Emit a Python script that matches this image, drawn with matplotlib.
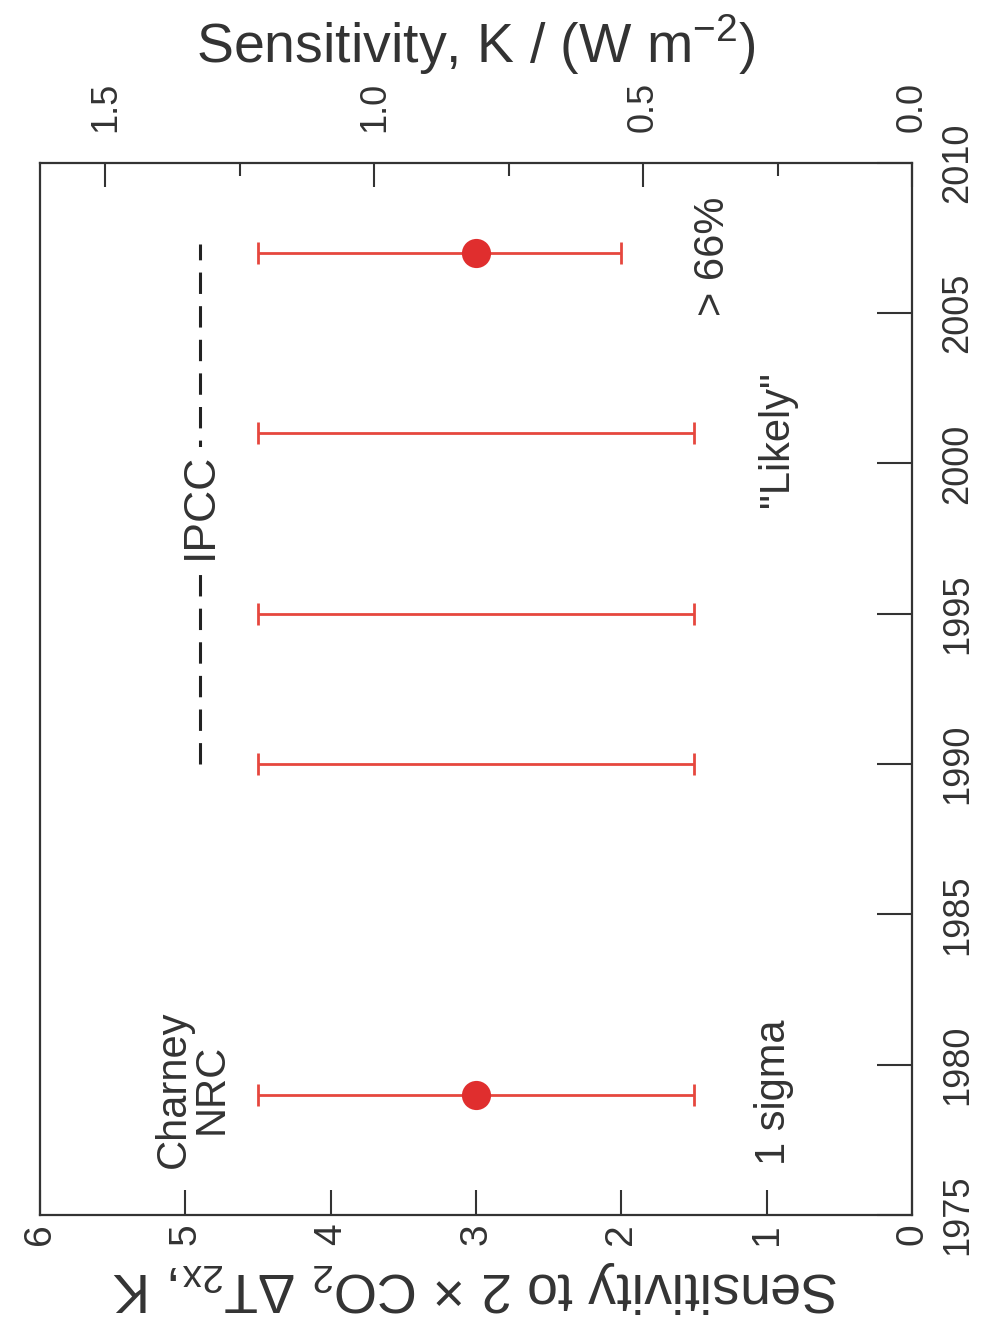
import numpy as np
import matplotlib
matplotlib.use("Agg")
import matplotlib.pyplot as plt

plt.rcParams['font.family'] = ['Liberation Sans', 'DejaVu Sans']
plt.rcParams['mathtext.fontset'] = 'custom'
plt.rcParams['mathtext.rm'] = 'Liberation Sans'

# climate sensitivity assessments (K for doubled CO2)
years = [1979, 1990, 1995, 2001, 2007]
low = [1.5, 1.5, 1.5, 1.5, 2.0]
high = [4.5, 4.5, 4.5, 4.5, 4.5]
best_years = [1979, 2007]
best_vals = [3.0, 3.0]
ipcc_span = [1990, 2007.3]
ipcc_level = 4.9

k_ticks = [0, 1, 2, 3, 4, 5, 6]
year_ticks = [1975, 1980, 1985, 1990, 1995, 2000, 2005, 2010]
flux_ticks = [0.0, 0.5, 1.0, 1.5]
flux_minor = [0.25, 0.75, 1.25]
K_PER_FLUX = 3.7  # K per (W m-2)

red = '#e6473e'
ink = '#333333'

fig = plt.figure(figsize=(9.9, 13.37), dpi=100)
ax = fig.add_axes([0.0404, 0.0912, 0.881, 0.787])

low = np.array(low)
high = np.array(high)
mid = (low + high) / 2
ax.errorbar(mid, years, xerr=(high - low) / 2, fmt='none', ecolor=red,
            elinewidth=2.0, capsize=8, capthick=2.0)
ax.plot(best_vals, best_years, 'o', color='#e02e2e', ms=21, mec='none')

# IPCC range marker with its label
ax.plot([ipcc_level, ipcc_level], ipcc_span, color='#222222', lw=2.2,
        ls=(0, (7, 4)))
ax.text(ipcc_level, 1998.6, 'IPCC', rotation=90, ha='center', va='center',
        fontsize=32, color=ink,
        bbox=dict(facecolor='white', edgecolor='none', pad=4))

ax.text(4.95, 1979.2, 'Charney\nNRC', rotation=90, ha='center', va='center',
        multialignment='center', fontsize=30, color=ink, linespacing=0.95)
ax.text(0.95, 1979.1, '1 sigma', rotation=90, ha='center', va='center',
        fontsize=30, color=ink)
ax.text(0.93, 2000.8, '"Likely"', rotation=90, ha='center', va='center',
        fontsize=30, color=ink)
ax.text(1.37, 2006.9, '> 66%', rotation=90, ha='center', va='center',
        fontsize=30, color=ink)

ax.set_xlim(6, 0)
ax.set_ylim(1975, 2010)

for s in ax.spines.values():
    s.set_color(ink)
    s.set_linewidth(1.6)

ax.set_xticks(k_ticks)
ax.set_xticklabels([str(k) for k in k_ticks], rotation=90, fontsize=28,
                   color=ink)
ax.tick_params(axis='x', direction='in', length=18, width=1.5, color=ink,
               pad=6)

ax.yaxis.tick_right()
ax.set_yticks(year_ticks)
ax.set_yticklabels([str(y) for y in year_ticks], rotation=90, fontsize=26,
                   color=ink, va='center')
ax.tick_params(axis='y', direction='in', length=25, width=1.5, color=ink,
               pad=20, left=False, right=True)

ax.set_xlabel(r'Sensitivity to 2 $\times$ CO$_{\mathregular{2}}$ '
              r'$\Delta$T$_{\mathregular{2x}}$, K',
              rotation=180, fontsize=40, color=ink, labelpad=10)

sec = ax.secondary_xaxis('top', functions=(lambda k: k / K_PER_FLUX,
                                           lambda f: f * K_PER_FLUX))
sec.set_xticks(flux_ticks)
sec.set_xticklabels(['%.1f' % f for f in flux_ticks], rotation=90,
                    fontsize=26, color=ink)
sec.set_xticks(flux_minor, minor=True)
sec.tick_params(axis='x', which='major', direction='in', length=17,
                width=1.5, color=ink, pad=22)
sec.tick_params(axis='x', which='minor', direction='in', length=9,
                width=1.5, color=ink)
sec.spines['top'].set_visible(False)
sec.set_xlabel(r'Sensitivity, K / (W m$^{\mathregular{-2}}$)', fontsize=40,
               color=ink, labelpad=14)

fig.savefig('out.png', dpi=100)
